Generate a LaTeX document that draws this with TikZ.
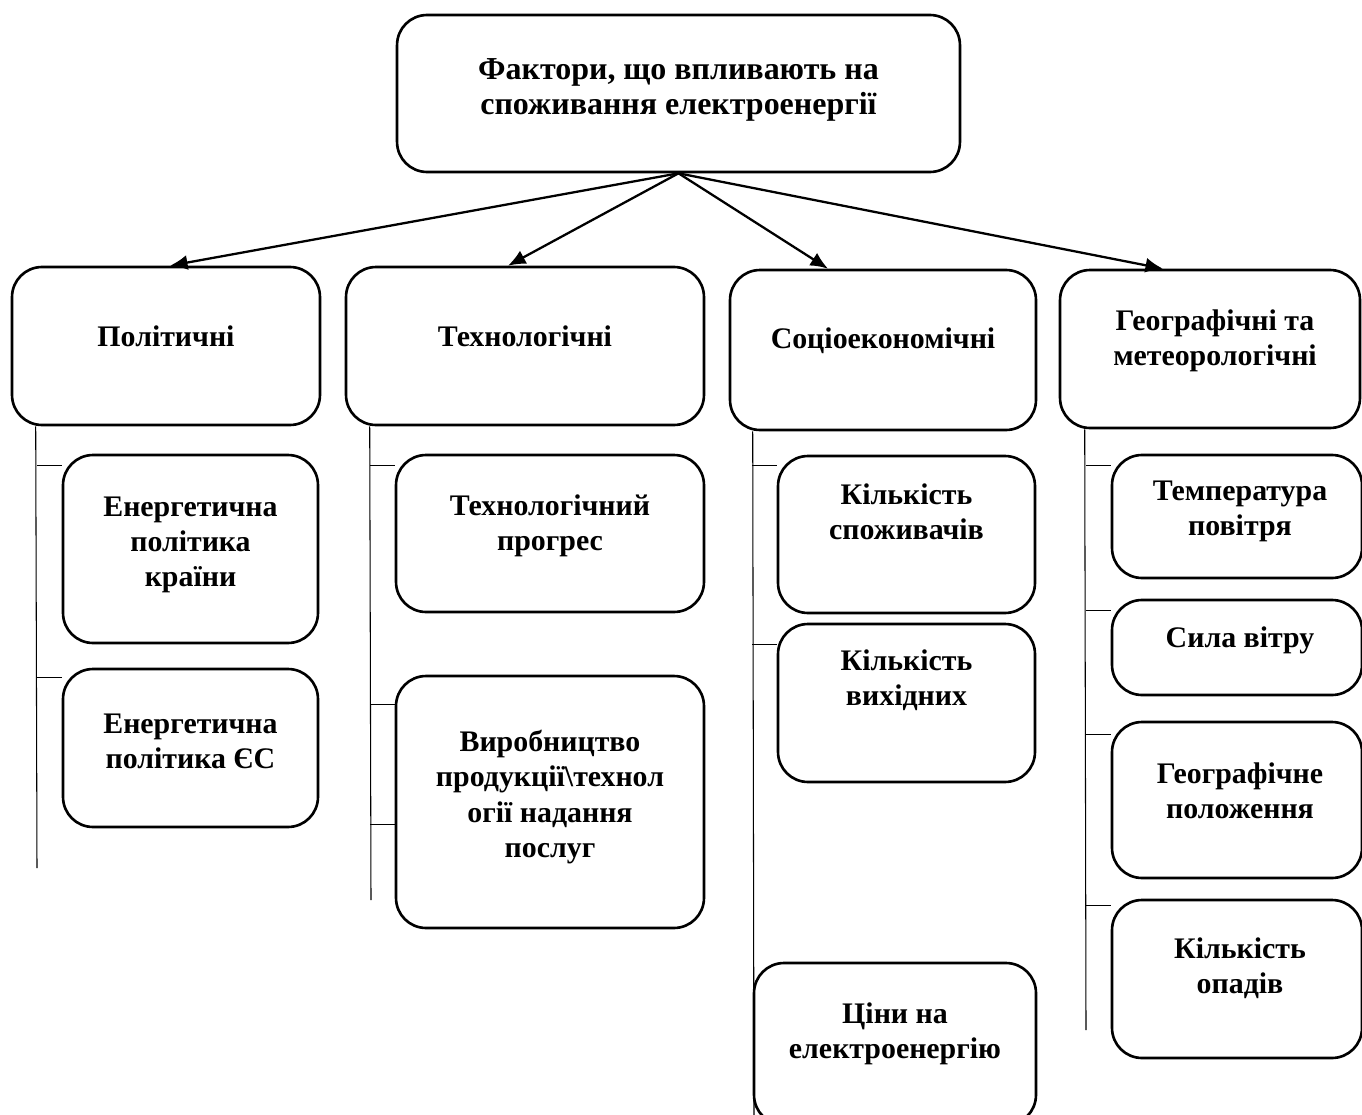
\documentclass[tikz,border=0pt]{standalone}
\usepackage{fontspec}
\setmainfont{Liberation Serif}
\usetikzlibrary{arrows.meta}

\begin{document}
\begin{tikzpicture}[x=0.02cm, y=-0.02cm,
		box/.style={draw, line width=1.5pt, rounded corners=0.6cm, inner sep=0pt},
		txt/.style={align=center, inner sep=0pt, font=\bfseries\fontsize{17}{20}\selectfont},
		arr/.style={line width=1.3pt, -{Latex[length=10pt, width=8.5pt]}},
		stem/.style={line width=0.6pt}]
			\clip (0,0) rectangle (1362,1115);
			% top
			\node[box, minimum width=11.26cm, minimum height=3.14cm] (top) at (678.5,93.5) {};
			\node[txt, font=\bfseries\fontsize{18.2}{20}\selectfont] (topT) at (678.5,90) {Фактори, що впливають на\\споживання електроенергії};
			% groups
			\node[box, minimum width=6.16cm, minimum height=3.16cm] (pol) at (166,346) {};
			\node[box, minimum width=7.16cm, minimum height=3.16cm] (tech) at (525,346) {};
			\node[box, minimum width=6.12cm, minimum height=3.2cm] (soc) at (883,350) {};
			\node[box, minimum width=6cm, minimum height=3.16cm] (geo) at (1210,349) {};
			\node[txt] (polT) at (166,336) {Політичні};
			\node[txt] (techT) at (525,336) {Технологічні};
			\node[txt] (socT) at (883,341) {Соціоекономічні};
			\node[txt] (geoT) at (1215,341) {Географічні та\\метеорологічні};
			\draw[arr] (top.south) -- ([xshift=0.08cm]pol.north);
			\draw[arr] (top.south) -- ([xshift=-0.34cm]tech.north);
			\draw[arr] (top.south) -- ([xshift=-1.1cm]soc.north);
			\draw[arr] (top.south) -- ([xshift=-0.94cm]geo.north);
			% factors
			\node[box, minimum width=5.1cm, minimum height=3.76cm] (pol1) at (190.5,549) {};
			\node[box, minimum width=5.1cm, minimum height=3.16cm] (pol2) at (190.5,748) {};
			\node[box, minimum width=6.16cm, minimum height=3.14cm] (tech1) at (550,533.5) {};
			\node[box, minimum width=6.16cm, minimum height=5.04cm] (tech2) at (550,802) {};
			\node[box, minimum width=5.14cm, minimum height=3.14cm] (soc1) at (906.5,534.5) {};
			\node[box, minimum width=5.14cm, minimum height=3.16cm] (soc2) at (906.5,703) {};
			\node[box, minimum width=5.64cm, minimum height=3.24cm] (soc3) at (895,1044) {};
			\node[box, minimum width=5cm, minimum height=2.46cm] (geo1) at (1237,516.5) {};
			\node[box, minimum width=5cm, minimum height=1.9cm] (geo2) at (1237,647.5) {};
			\node[box, minimum width=5cm, minimum height=3.12cm] (geo3) at (1237,800) {};
			\node[box, minimum width=5cm, minimum height=3.16cm] (geo4) at (1237,979) {};
			\node[txt] (pol1T) at (190.5,545) {Енергетична\\політика\\країни};
			\node[txt] (pol2T) at (190.5,741) {Енергетична\\політика ЄС};
			\node[txt] (tech1T) at (550,526) {Технологічний\\прогрес};
			\node[txt] (tech2T) at (550,797) {Виробництво\\продукції\textbackslash технол\\огії надання\\послуг};
			\node[txt] (soc1T) at (906.5,511.5) {Кількість\\споживачів};
			\node[txt] (soc2T) at (906.5,680) {Кількість\\вихідних};
			\node[txt] (soc3T) at (895,1034) {Ціни на\\електроенергію};
			\node[txt] (geo1T) at (1240,511) {Температура\\повітря};
			\node[txt] (geo2T) at (1240,640) {Сила вітру};
			\node[txt] (geo3T) at (1240,791) {Географічне\\положення};
			\node[txt] (geo4T) at (1240,968.5) {Кількість\\опадів};
			% stems
			\coordinate (polEnd) at (37,868);
			\coordinate (techEnd) at (371,900);
			\coordinate (socEnd) at (754,1120);
			\coordinate (geoEnd) at (1086,1030);
			\draw[stem] ([xshift=0.5cm]pol.south west) -- (polEnd);
			\draw[stem] ([xshift=0.5cm]tech.south west) -- (techEnd);
			\draw[stem] ([xshift=0.48cm]soc.south west) -- (socEnd);
			\draw[stem] ([xshift=0.52cm]geo.south west) -- (geoEnd);
			\foreach \n/\d in {pol1/0.24, pol2/0.2, tech1/0.24, tech2/0.6, tech2/3.0, soc1/0.22, soc2/0.44, geo1/0.24, geo2/0.24, geo3/0.28, geo4/0.14}
				\draw[stem] ([yshift=-\d cm]\n.north west) -- ++(-25,0);
		\end{tikzpicture}
\end{document}
